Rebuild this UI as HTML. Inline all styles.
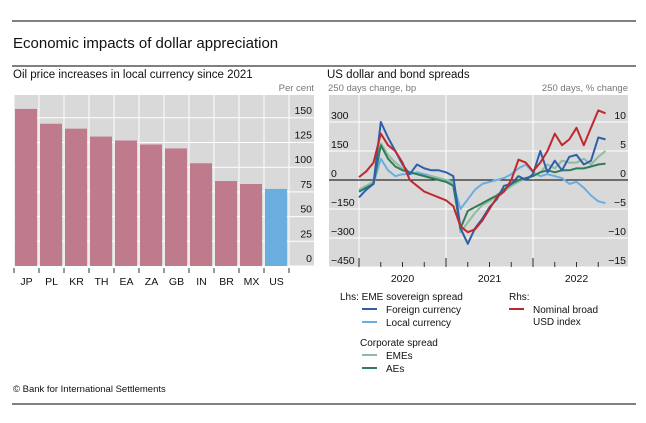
<!DOCTYPE html>
<html><head><meta charset="utf-8"><style>
body{margin:0;background:#fff;font-family:"Liberation Sans",sans-serif;}
svg text{font-family:"Liberation Sans",sans-serif;}
</style></head><body>
<svg id="s" width="646" height="418" viewBox="0 0 646 418" xmlns="http://www.w3.org/2000/svg">
<line x1="12" y1="21" x2="636" y2="21" stroke="#000" stroke-width="1"/>
<text x="13" y="48" font-size="15" fill="#111">Economic impacts of dollar appreciation</text>
<line x1="12" y1="66" x2="636" y2="66" stroke="#000" stroke-width="1"/>
<text x="13" y="78" font-size="11.5" fill="#111">Oil price increases in local currency since 2021</text>
<text x="327" y="78" font-size="11.5" fill="#111">US dollar and bond spreads</text>
<text x="314" y="91" font-size="9.5" fill="#777" text-anchor="end">Per cent</text>
<text x="328" y="91" font-size="9.5" fill="#777">250 days change, bp</text>
<text x="628" y="91" font-size="9.5" fill="#777" text-anchor="end">250 days, % change</text>
<g id="left"></g>
<g id="right"></g>
<g font-size="10" fill="#111">
<text x="340" y="300">Lhs: EME sovereign spread</text>
<line x1="362" y1="309" x2="377" y2="309" stroke="#2e5fa8" stroke-width="2"/>
<text x="386" y="313">Foreign currency</text>
<line x1="362" y1="322" x2="377" y2="322" stroke="#6aaee0" stroke-width="2"/>
<text x="386" y="326">Local currency</text>
<text x="360" y="346">Corporate spread</text>
<line x1="362" y1="355" x2="377" y2="355" stroke="#8fbba0" stroke-width="2"/>
<text x="386" y="359">EMEs</text>
<line x1="362" y1="368" x2="377" y2="368" stroke="#2e7d5a" stroke-width="2"/>
<text x="386" y="372">AEs</text>
<text x="509" y="300">Rhs:</text>
<line x1="509" y1="309" x2="524" y2="309" stroke="#c0282d" stroke-width="2"/>
<text x="533" y="313">Nominal broad</text>
<text x="533" y="325">USD index</text>
</g>
<text x="13" y="392" font-size="9.5" fill="#111">© Bank for International Settlements</text>
<line x1="12" y1="404" x2="636" y2="404" stroke="#000" stroke-width="1"/>
</svg>
<script>
const NS="http://www.w3.org/2000/svg";
const countries=["JP","PL","KR","TH","EA","ZA","GB","IN","BR","MX","US"];
const oilValues=[159,144,139,131,127,123,119,104,86,83,78];
const leftTicks=[0,25,50,75,100,125,150];
const months=[0,1,2,3,4,5,6,7,8,9,10,11,12,13,14,15,16,17,18,19,20,21,22,23,24,25,26,27,28,29,30,31,32,33,34];
const foreignCurrency=[-90,-50,-20,300,220,150,80,30,80,60,50,50,40,20,-250,-330,-250,-200,-140,-100,-30,-20,20,0,30,150,40,100,50,120,130,80,100,220,210];
const localCurrency=[-60,-40,-20,110,50,20,30,30,40,30,20,10,0,-20,-150,-100,-50,-20,-10,0,10,30,60,80,40,20,30,20,10,-20,-10,-40,-80,-110,-120];
const emeCorporate=[-50,-30,-10,190,130,90,60,40,30,20,20,10,0,-10,-270,-220,-170,-130,-110,-80,-60,-30,-10,10,20,40,80,60,100,90,90,110,80,120,150];
const aeCorporate=[-60,-40,-20,180,110,70,50,40,30,20,10,0,-10,-30,-250,-160,-140,-120,-100,-80,-50,-20,0,10,20,40,50,40,50,50,60,60,70,80,85];
const usdIndex=[0.5,1.5,3,8,6,5,3,0,-1,-2,-2.5,-3,-3.5,-4.5,-8,-9,-8.5,-7,-5,-3,-2,0,3.5,3,1.5,3,5,8,6,7,9,6,9,12,11.5];
const lhsTicks=[-450,-300,-150,0,150,300];
const rhsTicks=[-15,-10,-5,0,5,10];
const years=["2020","2021","2022"];

function mk(tag,attrs,parent){const e=document.createElementNS(NS,tag);for(const k in attrs)e.setAttribute(k,attrs[k]);parent.appendChild(e);return e;}

// left chart
const L=document.getElementById("left");
const lx0=14,lx1=314,ly0=95,ly1=266,band=25;
const ly=v=>ly1-v*(24.7/25);
const lxb=i=>lx0+i*band;
let bg=mk("rect",{x:lx0,y:ly0,width:lx1-lx0,height:ly1-ly0,fill:"#d9d9d9"},L);


leftTicks.forEach(t=>{
  const g=mk("line",{x1:lx0,x2:lx1,y1:ly(t),y2:ly(t),stroke:"#fff","stroke-width":1},L);
  
  
  const tx=mk("text",{x:312,y:ly(t)-4,"font-size":10.5,"text-anchor":"end",fill:"#111"},L);
  tx.textContent=t;
  
  
});
for(let i=0;i<=countries.length;i++){
  const v=mk("line",{x1:lxb(i),x2:lxb(i),y1:ly0,y2:ly1,stroke:"#fff","stroke-width":1},L);
  
  
  const tk=mk("line",{x1:lxb(i),x2:lxb(i),y1:ly1+2,y2:ly1+7,stroke:"#333","stroke-width":1},L);
  
  
}
countries.forEach((c,i)=>{
  const r=mk("rect",{x:lxb(i)+1,y:ly(oilValues[i]),width:band-3,height:ly1-ly(oilValues[i]),fill:c==="US"?"#6aaee0":"#bf7b8b"},L);
  
  
  const t=mk("text",{x:lxb(i)+band/2,y:285,"font-size":10.5,"text-anchor":"middle",fill:"#111"},L);
  t.textContent=c;
  
  
});

// right chart
const R=document.getElementById("right");
const rx0=329,rx1=628,ry0=95,ry1=267,zeroY=180,perBp=29/150;
const yl=v=>zeroY-v*perBp;
const yr=v=>zeroY-v*(29/5);
const xm=m=>359+m*(87/12);
let bg2=mk("rect",{x:rx0,y:ry0,width:rx1-rx0,height:ry1-ry0,fill:"#d9d9d9"},R);


lhsTicks.forEach(t=>{
  if(t!==0){const g=mk("line",{x1:rx0,x2:rx1,y1:yl(t),y2:yl(t),stroke:"#fff","stroke-width":1},R);
  
  }
  const tx=mk("text",{x:331,y:yl(t)-3,"font-size":10.5,fill:"#111"},R);
  tx.textContent=t<0?"\u2212"+(-t):t;
  
  
});
rhsTicks.forEach(t=>{
  const tx=mk("text",{x:626,y:yr(t)-3,"font-size":10.5,"text-anchor":"end",fill:"#111"},R);
  tx.textContent=t<0?"\u2212"+(-t):t;
  
  
});
years.forEach((y,i)=>{
  const x=xm(i*12);
  const g=mk("line",{x1:x,x2:x,y1:ry0,y2:ry1,stroke:"#fff","stroke-width":1},R);
  
  
  const tk=mk("line",{x1:x,x2:x,y1:ry1-9,y2:ry1,stroke:"#333","stroke-width":1},R);
  
  
  for(let q=1;q<4;q++){
    const qt=mk("line",{x1:xm(i*12+q*3),x2:xm(i*12+q*3),y1:ry1-5,y2:ry1,stroke:"#333","stroke-width":1},R);
    
    
  }
  const t=mk("text",{x:xm(i*12+6),y:282,"font-size":10.5,"text-anchor":"middle",fill:"#111"},R);
  t.textContent=y;
  
  
});
const z=mk("line",{x1:rx0,x2:rx1,y1:zeroY,y2:zeroY,stroke:"#000","stroke-width":1},R);


function series(vals,fy,color,name){
  const d=vals.map((v,i)=>(i?"L":"M")+xm(months[i]).toFixed(1)+" "+fy(v).toFixed(1)).join(" ");
  const p=mk("path",{d:d,fill:"none",stroke:color,"stroke-width":2,"stroke-linejoin":"round"},R);
  
  
}
series(localCurrency,yl,"#6aaee0","line-local-currency");
series(emeCorporate,yl,"#8fbba0","line-eme-corporate");
series(aeCorporate,yl,"#2e7d5a","line-ae-corporate");
series(foreignCurrency,yl,"#2e5fa8","line-foreign-currency");
series(usdIndex,yr,"#c0282d","line-usd-index");
</script>
</body></html>
